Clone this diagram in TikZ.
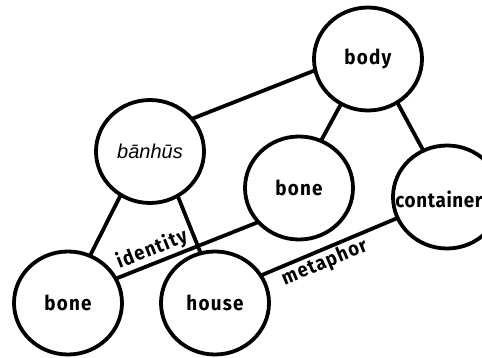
\documentclass[tikz,border=0pt]{standalone}
\usepackage{fontspec}
\usetikzlibrary{shapes.geometric}
\newfontfamily\labfont[FakeStretch=0.92,LetterSpace=6]{Fira Sans}
\newfontfamily\labfontn[FakeStretch=0.92,LetterSpace=3]{Fira Sans}
\newfontfamily\itfont{Liberation Sans}
\begin{document}
\begin{tikzpicture}[x=1pt,y=-1pt,
  conc/.style={ellipse, draw, fill=white, line width=3.8pt, minimum width=108pt, minimum height=103pt, inner sep=0pt, outer sep=0pt, font=\labfont\bfseries\fontsize{20.5}{24}\selectfont},
  ctext/.style={inner sep=0pt, font=\labfontn\bfseries\fontsize{20.5}{24}\selectfont},
  link/.style={line width=3.8pt, line cap=round},
  lbl/.style={font=\labfont\bfseries\fontsize{20}{24}\selectfont, sloped, inner sep=1.5pt}]
\useasboundingbox (0,0) rectangle (482,358);
\clip (0,0) rectangle (482,358);
\node[conc] (body) at (368,59) {body};
\node[conc] (banhus) at (150,151.5) {\itfont\mdseries\itshape\fontsize{20}{23}\selectfont bānhūs};
\node[conc] (bonem) at (299,188) {bone};
\node[conc] (cont) at (447,197) {};
\node[ctext] (conttext) at (439,199) {container};
\node[conc] (bonel) at (68,303) {bone};
\node[conc] (house) at (215,303) {house};
\draw[link] (body.192) -- (banhus.38.7);
\draw[link] (body.239) -- (bonem.65.5);
\draw[link] (body.304) -- (cont.117.5);
\draw[link] (banhus.236.8) -- (bonel.65.5);
\draw[link] (banhus.302) -- (house.106.8);
\draw[link] (bonel.27.8) -- node[lbl, pos=0.29, above] (lid) {identity} (bonem.220);
\draw[link] (house.31.6) -- node[lbl, pos=0.43, below] (lmet) {metaphor} (cont.203.9);
\end{tikzpicture}
\end{document}
